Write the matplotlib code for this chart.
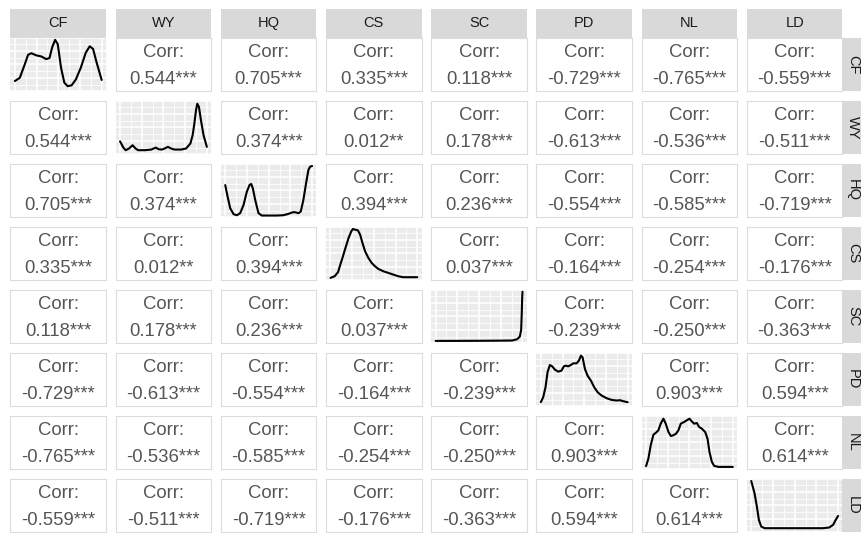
import matplotlib
matplotlib.use("Agg")
import matplotlib.pyplot as plt
from matplotlib.ticker import MultipleLocator

plt.rcParams['font.family'] = ['Liberation Sans', 'DejaVu Sans']

variables = ["CF", "WY", "HQ", "CS", "SC", "PD", "NL", "LD"]

# upper-triangle correlations (row i, col j>i)
corr_CF = [0.544, 0.705, 0.335, 0.118, -0.729, -0.765, -0.559]
corr_WY = [0.374, 0.012, 0.178, -0.613, -0.536, -0.511]
corr_HQ = [0.394, 0.236, -0.554, -0.585, -0.719]
corr_CS = [0.037, -0.164, -0.254, -0.176]
corr_SC = [-0.239, -0.250, -0.363]
corr_PD = [0.903, 0.594]
corr_NL = [0.614]

stars_CF = ["***"] * 7
stars_WY = ["***", "**", "***", "***", "***", "***"]
stars_HQ = ["***"] * 5
stars_CS = ["***"] * 4
stars_SC = ["***"] * 3
stars_PD = ["***"] * 2
stars_NL = ["***"]

# diagonal density curves (relative position, relative height)
dens_CF_x = [0, 0.057, 0.114, 0.152, 0.19, 0.247, 0.304, 0.361, 0.399, 0.43, 0.464, 0.494, 0.532, 0.57, 0.608, 0.654, 0.703, 0.76, 0.817, 0.863, 0.901, 0.943, 1.0]
dens_CF_y = [0.19, 0.25, 0.50, 0.68, 0.71, 0.67, 0.65, 0.60, 0.62, 0.82, 0.96, 0.88, 0.44, 0.16, 0.094, 0.11, 0.22, 0.44, 0.72, 0.84, 0.79, 0.53, 0.21]

dens_WY_x = [0, 0.038, 0.065, 0.103, 0.144, 0.179, 0.209, 0.285, 0.361, 0.411, 0.445, 0.483, 0.513, 0.551, 0.589, 0.627, 0.703, 0.76, 0.81, 0.836, 0.856, 0.875, 0.89, 0.909, 0.932, 0.962, 1.0]
dens_WY_y = [0.24, 0.124, 0.075, 0.106, 0.168, 0.106, 0.075, 0.075, 0.087, 0.124, 0.093, 0.087, 0.106, 0.137, 0.106, 0.087, 0.087, 0.106, 0.199, 0.354, 0.571, 0.82, 0.944, 0.882, 0.634, 0.354, 0.137]

dens_HQ_x = [0, 0.027, 0.057, 0.096, 0.134, 0.172, 0.211, 0.249, 0.28, 0.299, 0.318, 0.345, 0.383, 0.421, 0.479, 0.594, 0.67, 0.728, 0.778, 0.805, 0.843, 0.87, 0.9, 0.931, 0.958, 0.977, 1.0]
dens_HQ_y = [0.60, 0.385, 0.168, 0.056, 0.037, 0.075, 0.23, 0.478, 0.602, 0.621, 0.54, 0.323, 0.075, 0.031, 0.031, 0.031, 0.037, 0.062, 0.093, 0.093, 0.075, 0.106, 0.323, 0.634, 0.882, 0.944, 0.957]

dens_CS_x = [0, 0.049, 0.087, 0.114, 0.144, 0.179, 0.209, 0.24, 0.259, 0.285, 0.316, 0.342, 0.369, 0.399, 0.437, 0.475, 0.513, 0.551, 0.608, 0.665, 0.722, 0.779, 0.836, 0.894, 1.0]
dens_CS_y = [0.043, 0.075, 0.149, 0.292, 0.447, 0.634, 0.789, 0.913, 0.957, 0.944, 0.932, 0.851, 0.696, 0.54, 0.416, 0.323, 0.261, 0.211, 0.168, 0.137, 0.106, 0.075, 0.056, 0.056, 0.056]

dens_SC_x = [0, 0.2, 0.5, 0.7, 0.882, 0.939, 0.97, 0.985, 0.992, 0.996, 1.0]
dens_SC_y = [0.043, 0.043, 0.045, 0.047, 0.05, 0.075, 0.124, 0.248, 0.559, 0.807, 0.963]

dens_PD_x = [0, 0.027, 0.054, 0.077, 0.104, 0.131, 0.162, 0.2, 0.238, 0.265, 0.288, 0.315, 0.346, 0.373, 0.412, 0.438, 0.462, 0.481, 0.508, 0.538, 0.577, 0.615, 0.654, 0.7, 0.758, 0.815, 0.873, 0.912, 0.95, 1.0]
dens_PD_y = [0.075, 0.168, 0.354, 0.634, 0.77, 0.745, 0.683, 0.646, 0.665, 0.745, 0.758, 0.745, 0.77, 0.801, 0.801, 0.851, 0.944, 0.913, 0.696, 0.571, 0.478, 0.354, 0.261, 0.199, 0.149, 0.118, 0.106, 0.112, 0.093, 0.075]

dens_NL_x = [0, 0.027, 0.054, 0.085, 0.115, 0.142, 0.169, 0.2, 0.227, 0.258, 0.285, 0.315, 0.346, 0.373, 0.4, 0.438, 0.469, 0.5, 0.527, 0.554, 0.585, 0.612, 0.642, 0.681, 0.708, 0.731, 0.758, 0.785, 0.835, 0.892, 1.0]
dens_NL_y = [0.056, 0.199, 0.447, 0.646, 0.683, 0.727, 0.851, 0.944, 0.851, 0.696, 0.621, 0.634, 0.665, 0.727, 0.851, 0.882, 0.913, 0.944, 0.894, 0.851, 0.863, 0.789, 0.758, 0.696, 0.571, 0.323, 0.137, 0.062, 0.043, 0.043, 0.043]

dens_LD_x = [0, 0.038, 0.065, 0.088, 0.115, 0.153, 0.248, 0.401, 0.63, 0.821, 0.897, 0.943, 0.973, 1.0]
dens_LD_y = [0.957, 0.727, 0.478, 0.230, 0.106, 0.075, 0.075, 0.075, 0.075, 0.075, 0.087, 0.137, 0.23, 0.304]

upper = [corr_CF, corr_WY, corr_HQ, corr_CS, corr_SC, corr_PD, corr_NL]
upper_stars = [stars_CF, stars_WY, stars_HQ, stars_CS, stars_SC, stars_PD, stars_NL]
dens = [(dens_CF_x, dens_CF_y), (dens_WY_x, dens_WY_y), (dens_HQ_x, dens_HQ_y),
        (dens_CS_x, dens_CS_y), (dens_SC_x, dens_SC_y), (dens_PD_x, dens_PD_y),
        (dens_NL_x, dens_NL_y), (dens_LD_x, dens_LD_y)]

W, H = 862, 533
fig = plt.figure(figsize=(W / 100, H / 100), dpi=100)
fig.patch.set_facecolor("white")

COL0, COLSTEP, PW = 10.5, 105.2, 95.5
ROW0, ROWSTEP, PH = 37.7, 63.0, 53.5
STRIP = 29.0


def add_ax(x, y, w, h):
    return fig.add_axes([x / W, 1 - (y + h) / H, w / W, h / H])


def get_corr(i, j):
    a, b = min(i, j), max(i, j)
    return upper[a][b - a - 1], upper_stars[a][b - a - 1]


n = len(variables)
for i in range(n):
    for j in range(n):
        x = COL0 + COLSTEP * j
        y = ROW0 + ROWSTEP * i
        ax = add_ax(x, y, PW, PH)
        if i == j:
            ax.set_facecolor("#EBEBEB")
            dx, dy = dens[i]
            ax.plot(dx, dy, color="black", lw=1.5, solid_capstyle="round")
            ax.set_xlim(-0.05, 1.05)
            ax.set_ylim(0, 1)
            ax.xaxis.set_major_locator(MultipleLocator(0.25))
            ax.xaxis.set_minor_locator(MultipleLocator(0.125))
            ax.yaxis.set_major_locator(MultipleLocator(0.25))
            ax.yaxis.set_minor_locator(MultipleLocator(0.125))
            ax.grid(which="major", color="white", lw=1.1)
            ax.grid(which="minor", color="white", lw=0.55)
            ax.set_axisbelow(True)
            ax.tick_params(which="both", length=0, labelbottom=False, labelleft=False)
            for s in ax.spines.values():
                s.set_visible(False)
        else:
            ax.set_facecolor("white")
            ax.set_xticks([])
            ax.set_yticks([])
            for s in ax.spines.values():
                s.set_color("#DCDCDC")
                s.set_linewidth(0.8)
            val, st = get_corr(i, j)
            ax.text(0.5, 0.64, "Corr:", ha="center", va="baseline",
                    fontsize=13.3, color="#555555", transform=ax.transAxes)
            ax.text(0.5, 0.13, f"{val:.3f}{st}", ha="center", va="baseline",
                    fontsize=13.3, color="#555555", transform=ax.transAxes)

# top strips
for j, v in enumerate(variables):
    sx = add_ax(COL0 + COLSTEP * j, ROW0 - STRIP, PW, STRIP)
    sx.set_facecolor("#D9D9D9")
    sx.set_xticks([])
    sx.set_yticks([])
    for s in sx.spines.values():
        s.set_visible(False)
    sx.text(0.5, 0.5, v, ha="center", va="center", fontsize=10.5,
            color="#1A1A1A", transform=sx.transAxes)

# right strips (canvas ends partway through them)
RX = COL0 + COLSTEP * (n - 1) + PW
for i, v in enumerate(variables):
    sx = add_ax(RX, ROW0 + ROWSTEP * i, W - RX, PH)
    sx.set_facecolor("#D9D9D9")
    sx.set_xticks([])
    sx.set_yticks([])
    for s in sx.spines.values():
        s.set_visible(False)
    sx.text(0.55, 0.5, v, ha="center", va="center", fontsize=10.5, rotation=-90,
            color="#1A1A1A", transform=sx.transAxes)

fig.savefig("out.png", dpi=100)
